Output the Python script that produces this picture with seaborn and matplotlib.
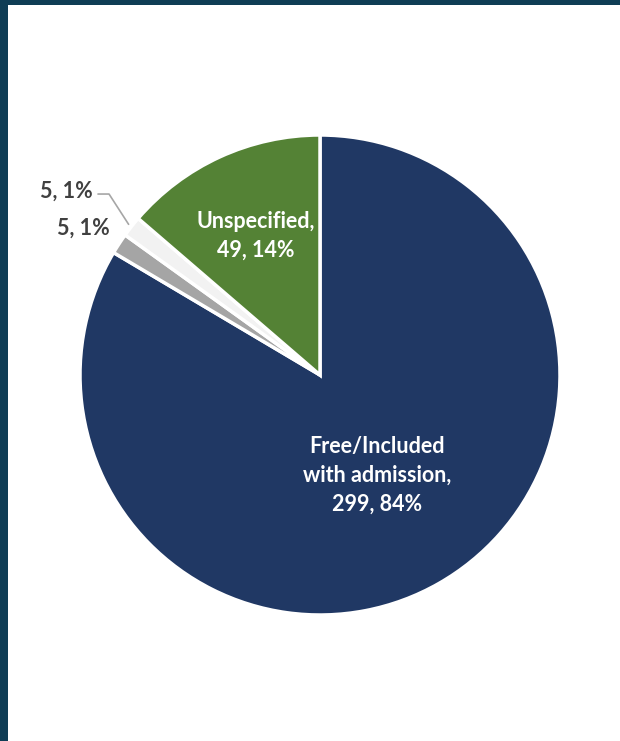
import numpy as np
import matplotlib.pyplot as plt
import seaborn as sns
from matplotlib.patches import Rectangle

# data
categories = ['Free/Included with admission', 'Paid (a)', 'Paid (b)', 'Unspecified']
counts = [299, 5, 5, 49]
colors = ['#203864', '#A5A5A5', '#F2F2F2', '#548235']

sns.set_theme(style='white')
plt.rcParams['font.family'] = ['Lato', 'DejaVu Sans']

fig = plt.figure(figsize=(6.2, 7.41), dpi=100)
fig.patch.set_facecolor('#0f3d55')
fig.patches.append(Rectangle((8 / 620, 0), 1, (741 - 5) / 741, transform=fig.transFigure,
                             facecolor='white', edgecolor='none', zorder=-5))

ax = fig.add_axes([80 / 620, 126 / 741, 480 / 620, 480 / 741])
ax.set_facecolor('none')
wedges, _ = ax.pie(counts, colors=colors, startangle=90, counterclock=False,
                   wedgeprops=dict(edgecolor='white', linewidth=2.5))
ax.set_xlim(-1, 1)
ax.set_ylim(-1, 1)
ax.set_aspect('equal')
ax.axis('off')

total = sum(counts)
pcts = [round(c / total * 100) for c in counts]
fs = 15.5


def mid(w):
    return np.deg2rad((w.theta1 + w.theta2) / 2)


def pos(w, r):
    a = mid(w)
    return r * np.cos(a), r * np.sin(a)


# inside labels
x, y = pos(wedges[0], 0.48)
ax.text(x, y, f'Free/Included\nwith admission,\n{counts[0]}, {pcts[0]}%', color='white',
        fontsize=fs, fontweight='bold', ha='center', va='center', linespacing=1.45)
x, y = pos(wedges[3], 0.64)
ax.text(x, y, f'Unspecified,\n{counts[3]}, {pcts[3]}%', color='white',
        fontsize=fs, fontweight='bold', ha='center', va='center', linespacing=1.45)

# outside labels
x, y = pos(wedges[1], 1.12)
ax.text(x + 0.06, y, f'{counts[1]}, {pcts[1]}%', color='#404040', fontsize=fs,
        fontweight='bold', ha='right', va='center')

x0, y0 = pos(wedges[2], 1.015)
ax.plot([x0, -0.879, -0.925], [y0, 0.754, 0.754], color='#A6A6A6', lw=1.2, clip_on=False)
ax.text(-0.946, 0.765, f'{counts[2]}, {pcts[2]}%', color='#404040', fontsize=fs,
        fontweight='bold', ha='right', va='center')

fig.savefig('out.png', dpi=100, facecolor=fig.get_facecolor())
